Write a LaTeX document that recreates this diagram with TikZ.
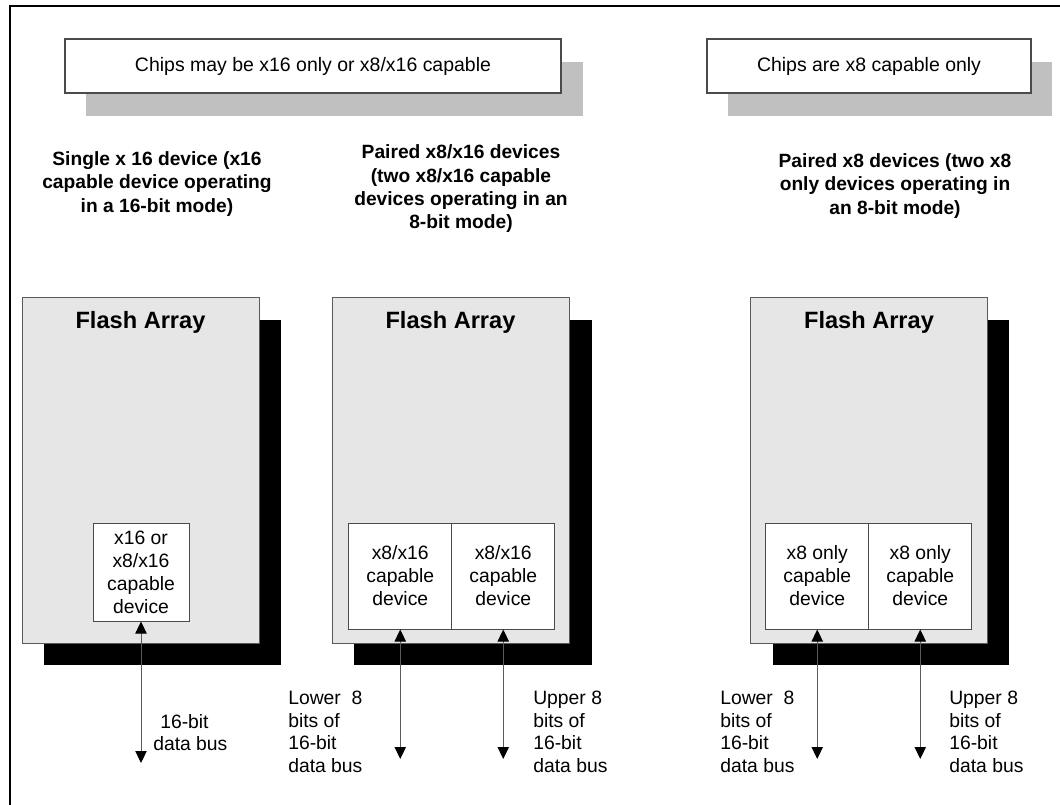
\documentclass[tikz,border=0pt]{standalone}
\usepackage{fontspec}
\setmainfont{Liberation Sans}
\usetikzlibrary{arrows.meta,calc}
\definecolor{arraygray}{HTML}{E6E6E6}
\definecolor{shadegray}{HTML}{C0C0C0}
\definecolor{edgegray}{HTML}{4A4A4A}
\definecolor{linegray}{HTML}{5A5A5A}
\begin{document}
\begin{tikzpicture}[x=0.75pt,y=-0.75pt,
  txt/.style={font=\fontsize{14.5}{17.25}\selectfont, inner sep=0pt},
  head/.style={font=\bfseries\fontsize{14.4}{17.5}\selectfont, inner sep=0pt, align=center},
  topbox/.style={draw=edgegray, fill=white, line width=0.9pt, inner sep=0pt,
    minimum height=40.5pt, font=\fontsize{14.6}{17.25}\selectfont},
  flashbox/.style={draw=linegray, fill=arraygray, line width=0.75pt, inner sep=0pt,
    minimum width=177.75pt, minimum height=258.75pt},
  title/.style={font=\bfseries\fontsize{17.7}{20}\selectfont, inner sep=0pt},
  devbox/.style={draw=edgegray, fill=white, line width=0.75pt, inner sep=0pt,
    align=center, font=\fontsize{14.5}{17.25}\selectfont},
  lbl/.style={txt, align=left, anchor=west, font=\fontsize{14.5}{17}\selectfont},
  bus/.style={draw=linegray, line width=0.75pt,
    {Triangle[width=8.5pt,length=9pt,color=black]}-{Triangle[width=8.5pt,length=9pt,color=black]}},
  frameline/.style={line width=1.5pt, line cap=rect}]
\useasboundingbox (0,0) rectangle (1060,805);

% frame
\draw[frameline] (1062,6) -- (10,6) -- (10,807);

% top boxes with shadows
\fill[shadegray] (86,62) rectangle (583,116);
\fill[shadegray] (728,62) rectangle (1052,116);
\node[topbox, minimum width=372pt] (t1) at (313,66) {Chips may be x16 only or x8/x16 capable};
\node[topbox, minimum width=243pt] (t2) at (869,66) {Chips are x8 capable only};

% headings
\node[head] (h1) at (157,184) {Single x 16 device (x16\\capable device operating\\in a 16-bit mode)};
\node[head] (h2) at (461,189) {Paired x8/x16 devices\\(two x8/x16 capable\\devices operating in an\\8-bit mode)};
\node[head] (h3) at (895,186) {Paired x8 devices (two x8\\only devices operating in\\an 8-bit mode)};

% flash array shadows
\fill[black] (44,320) rectangle (281,665);
\fill[black] (354,320) rectangle (592,665);
\fill[black] (773,320) rectangle (1009,665);

% flash arrays
\node[flashbox] (f1) at (140.5,470.5) {};
\node[flashbox] (f2) at (450.5,470.5) {};
\node[flashbox] (f3) at (869,470.5) {};
\node[title] (ft1) at ([yshift=-18.75pt]f1.north) {Flash Array};
\node[title] (ft2) at ([yshift=-18.75pt]f2.north) {Flash Array};
\node[title] (ft3) at ([yshift=-18.75pt]f3.north) {Flash Array};

% devices
\node[devbox, minimum width=72pt, minimum height=73.5pt] (d1) at (141,572) {x16 or\\x8/x16\\capable\\device};
\node[devbox, minimum width=76.9pt, minimum height=79.5pt] (d2a) at (400.25,576) {x8/x16\\capable\\device};
\node[devbox, minimum width=76.9pt, minimum height=79.5pt] (d2b) at (503.25,576) {x8/x16\\capable\\device};
\node[devbox, minimum width=76.9pt, minimum height=79.5pt] (d3a) at (817.25,576) {x8 only\\capable\\device};
\node[devbox, minimum width=76.9pt, minimum height=79.5pt] (d3b) at (920.25,576) {x8 only\\capable\\device};

% bus end points
\coordinate (b1) at (141,763);
\coordinate (b2a) at (400.25,759);
\coordinate (b2b) at (503.25,759);
\coordinate (b3a) at (817.25,759);
\coordinate (b3b) at (920.25,759);

% buses
\draw[bus] (d1.south) -- (b1);
\draw[bus] (d2a.south) -- (b2a);
\draw[bus] (d2b.south) -- (b2b);
\draw[bus] (d3a.south) -- (b3a);
\draw[bus] (d3b.south) -- (b3b);

% bus labels
\node[lbl] (l1) at (153,732.5) {\hspace*{5.25pt}16-bit\\data bus};
\node[lbl] (l2a) at (288,732) {Lower\ \ 8\\bits of\\16-bit\\data bus};
\node[lbl] (l2b) at (533,732) {Upper 8\\bits of\\16-bit\\data bus};
\node[lbl] (l3a) at (720,732) {Lower\ \ 8\\bits of\\16-bit\\data bus};
\node[lbl] (l3b) at (949,732) {Upper 8\\bits of\\16-bit\\data bus};
\end{tikzpicture}
\end{document}
